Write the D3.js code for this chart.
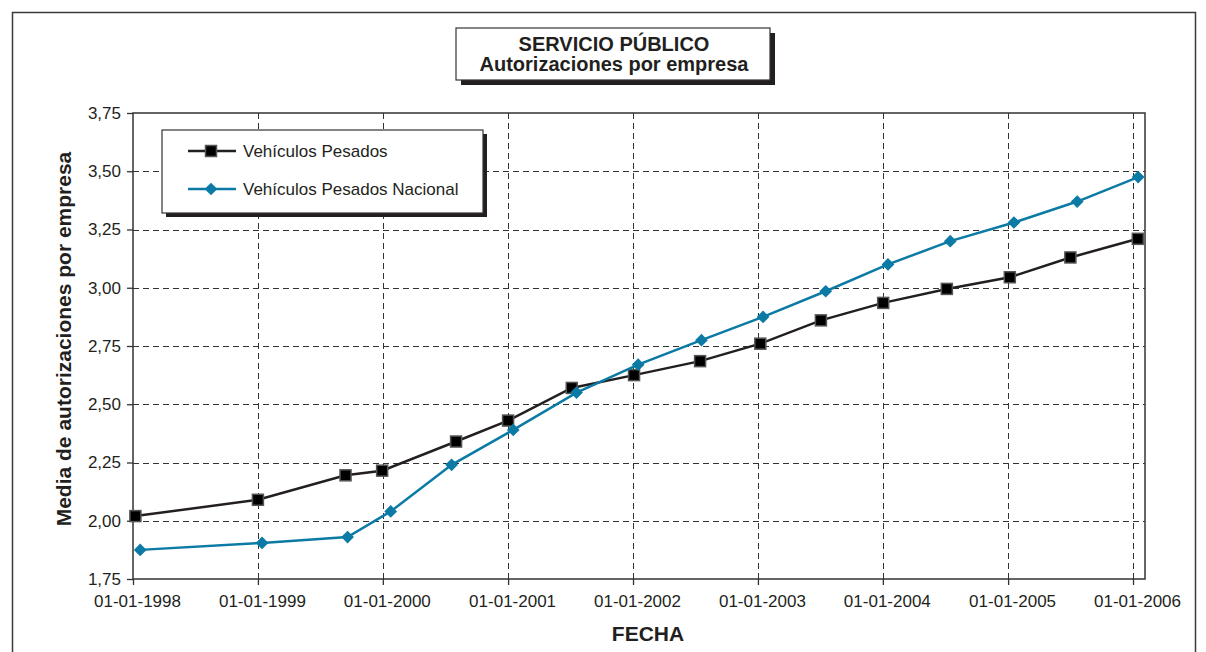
<!DOCTYPE html>
<html>
<head>
<meta charset="utf-8">
<script src="https://cdn.jsdelivr.net/npm/d3@7"></script>
<style>
  body { margin: 0; background: #fff; }
  text { font-family: "Liberation Sans", Arial, sans-serif; fill: #231f20; }
</style>
</head>
<body>
<svg width="1206" height="652"></svg>
<script>
// data
var seriesNames = ["Vehículos Pesados", "Vehículos Pesados Nacional"];

var pesadosDates = ["1998-01-08","1999-01-01","1999-09-14","1999-12-30","2000-08-02","2001-01-01",
  "2001-07-06","2002-01-04","2002-07-16","2003-01-08","2003-07-04","2004-01-02",
  "2004-07-06","2005-01-06","2005-07-02","2006-01-15"];
var pesadosValues = [2.02, 2.09, 2.195, 2.215, 2.34, 2.43, 2.57, 2.625, 2.685, 2.76, 2.86, 2.935,
  2.995, 3.045, 3.13, 3.21];

var nacionalDates = ["1998-01-22","1999-01-13","1999-09-20","2000-01-24","2000-07-20","2001-01-16",
  "2001-07-20","2002-01-16","2002-07-20","2003-01-16","2003-07-18","2004-01-16",
  "2004-07-16","2005-01-18","2005-07-22","2006-01-16"];
var nacionalValues = [1.875, 1.905, 1.93, 2.04, 2.24, 2.39, 2.55, 2.67, 2.775, 2.875, 2.985, 3.1,
  3.2, 3.28, 3.37, 3.475];

var yTicks = [1.75, 2.00, 2.25, 2.50, 2.75, 3.00, 3.25, 3.50, 3.75];
var xTickYears = [1998, 1999, 2000, 2001, 2002, 2003, 2004, 2005, 2006];

var parse = d3.timeParse("%Y-%m-%d");
var series = [
  { name: seriesNames[0], color: "#231f20", square: true,
    pts: pesadosDates.map((d, i) => ({ date: parse(d), v: pesadosValues[i] })) },
  { name: seriesNames[1], color: "#0b7aa5", square: false,
    pts: nacionalDates.map((d, i) => ({ date: parse(d), v: nacionalValues[i] })) }
];

var svg = d3.select("svg");
var plotL = 133, plotR = 1145, plotT = 113, plotB = 579;

// outer frame
svg.append("rect").attr("x", 12.5).attr("y", 12.5).attr("width", 1183).attr("height", 700)
  .attr("fill", "none").attr("stroke", "#3a3a3a").attr("stroke-width", 1.5);

var x = d3.scaleTime().domain([new Date(1998, 0, 1), new Date(2006, 1, 5)]).range([plotL, plotR]);
var y = d3.scaleLinear().domain([1.75, 3.75]).range([plotB, plotT]);

// grid
var grid = svg.append("g").attr("stroke", "#333").attr("stroke-dasharray", "6,4").attr("stroke-width", 1);
grid.selectAll(".hg").data(yTicks.slice(1, -1)).enter().append("line")
  .attr("x1", plotL).attr("x2", plotR).attr("y1", d => Math.round(y(d)) + 0.5).attr("y2", d => Math.round(y(d)) + 0.5);
grid.selectAll(".vg").data(xTickYears.slice(1)).enter().append("line")
  .attr("y1", plotT).attr("y2", plotB)
  .attr("x1", d => Math.round(x(new Date(d, 0, 1))) + 0.5).attr("x2", d => Math.round(x(new Date(d, 0, 1))) + 0.5);

// plot frame
svg.append("rect").attr("x", plotL).attr("y", plotT).attr("width", plotR - plotL).attr("height", plotB - plotT)
  .attr("fill", "none").attr("stroke", "#333").attr("stroke-width", 1.5);

// axes
var yAxis = svg.append("g").attr("transform", "translate(" + plotL + ",0)")
  .call(d3.axisLeft(y).tickValues(yTicks).tickSize(6).tickPadding(6)
    .tickFormat(d => d3.format(".2f")(d).replace(".", ",")));
var xAxis = svg.append("g").attr("transform", "translate(0," + plotB + ")")
  .call(d3.axisBottom(x).tickValues(xTickYears.map(yr => new Date(yr, 0, 1))).tickSize(6).tickPadding(10)
    .tickFormat(d3.timeFormat("%d-%m-%Y")));
[yAxis, xAxis].forEach(a => {
  a.select(".domain").remove();
  a.selectAll("line").attr("stroke", "#333").attr("stroke-width", 1.3);
  a.selectAll("text").attr("font-size", 17).attr("fill", "#333")
    .attr("font-family", "'Liberation Sans', Arial, sans-serif");
});
xAxis.selectAll("text").attr("dx", 4);

function marker(sel, s) {
  if (s.square) {
    sel.append("rect").attr("x", -5.5).attr("y", -5.5).attr("width", 11).attr("height", 11)
      .attr("fill", "#000").attr("stroke", "#555").attr("stroke-width", 1.5);
  } else {
    sel.append("rect").attr("x", -4.5).attr("y", -4.5).attr("width", 9).attr("height", 9)
      .attr("transform", "rotate(45)").attr("fill", s.color);
  }
}

// lines and markers
var line = d3.line().x(d => x(d.date)).y(d => y(d.v));
series.forEach(s => {
  svg.append("path").datum(s.pts).attr("d", line).attr("fill", "none")
    .attr("stroke", s.color).attr("stroke-width", 2.5);
  svg.selectAll(null).data(s.pts).enter().append("g")
    .attr("transform", d => "translate(" + x(d.date) + "," + y(d.v) + ")")
    .each(function() { marker(d3.select(this), s); });
});

// legend
var lg = svg.append("g");
lg.append("rect").attr("x", 166).attr("y", 134).attr("width", 321).attr("height", 83).attr("fill", "#231f20");
lg.append("rect").attr("x", 162).attr("y", 130).attr("width", 321).attr("height", 83)
  .attr("fill", "#fff").attr("stroke", "#333").attr("stroke-width", 1.2);
series.forEach((s, i) => {
  var ly = 151 + i * 38;
  lg.append("line").attr("x1", 188).attr("x2", 236).attr("y1", ly).attr("y2", ly)
    .attr("stroke", s.color).attr("stroke-width", 2.5);
  marker(lg.append("g").attr("transform", "translate(211," + ly + ")"), s);
  lg.append("text").attr("x", 243).attr("y", ly + 6).attr("font-size", 17).text(s.name);
});

// title box
var tg = svg.append("g");
tg.append("rect").attr("x", 461).attr("y", 33).attr("width", 314).attr("height", 52).attr("fill", "#231f20");
tg.append("rect").attr("x", 456).attr("y", 28).attr("width", 314).attr("height", 52)
  .attr("fill", "#fff").attr("stroke", "#333").attr("stroke-width", 1.2);
tg.append("text").attr("x", 614).attr("y", 51).attr("text-anchor", "middle")
  .attr("font-size", 20).attr("font-weight", "bold").text("SERVICIO PÚBLICO");
tg.append("text").attr("x", 614).attr("y", 71).attr("text-anchor", "middle")
  .attr("font-size", 20).attr("font-weight", "bold").text("Autorizaciones por empresa");

// axis titles
svg.append("text").attr("transform", "translate(71,339) rotate(-90)").attr("text-anchor", "middle")
  .attr("font-size", 21).attr("font-weight", "bold").text("Media de autorizaciones por empresa");
svg.append("text").attr("x", 648).attr("y", 641).attr("text-anchor", "middle")
  .attr("font-size", 21).attr("font-weight", "bold").text("FECHA");
</script>
</body>
</html>
